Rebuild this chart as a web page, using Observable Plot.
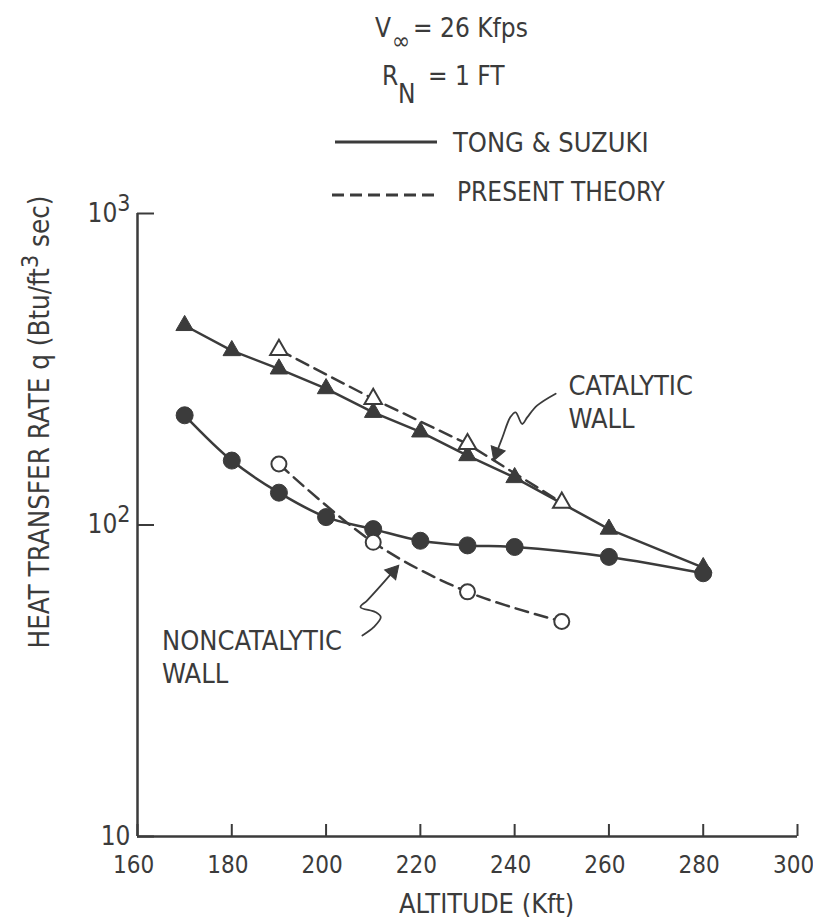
<!DOCTYPE html>
<html><head><meta charset="utf-8">
<script src="https://cdn.jsdelivr.net/npm/d3@7"></script>
<script src="https://cdn.jsdelivr.net/npm/@observablehq/plot@0.6"></script>
<style>
body{margin:0;background:#fff;}
#wrap{position:relative;width:813px;height:924px;}
#wrap svg{position:absolute;left:0;top:0;}
</style></head><body><div id="wrap"></div>
<script>
// ---- data ----
const altCatTong = [170,180,190,200,210,220,230,240,260,280];
const qCatTong   = [437,363,317,274,230,199,167,142,97,73];
const altCatPresent = [190,210,230,250];
const qCatPresent   = [365,254,182,118];
const altNonTong = [170,180,190,200,210,220,230,240,260,280];
const qNonTong   = [225,161,127,106,97,89,86,85,79,70];
const altNonPresent = [190,210,230,250];
const qNonPresent   = [157,88,61,49];
const xTicks = [160,180,200,220,240,260,280,300];
const yTicks = [10,100,1000];
const yTickLabels = ["10","10²","10³"];
const seriesNames = ["TONG & SUZUKI","PRESENT THEORY"];
const xLabel = "ALTITUDE (Kft)";
const yLabel = "HEAT TRANSFER RATE q (Btu/ft³ sec)";
// annotation labels (data-space anchors)
const noteText = ["CATALYTIC\nWALL","NONCATALYTIC\nWALL"];
const noteAlt = [251.4,165.2];
const noteQ = [309,46.9];
// annotation leader paths (data space)
const catArrowAlt = [248.7,244.8,242.7,241.6,240.2,239.1,237.4,236.5];
const catArrowQ   = [264,242,222,211,230,222,191,176];
const nonArrowAlt = [207.7,210.1,211.6,210.5,207.3,208.7,211.6,213.6];
const nonArrowQ   = [44.2,47.0,50.6,52.5,54.5,57.2,63.9,69.2];
const headAlt = [236.2,214.2];
const headQ = [171,70.8];
const headRotate = [200,42];

const INK = "#3b3b3b";
const FONT = '"DejaVu Sans Condensed","DejaVu Sans",sans-serif';
const W = 813, H = 924, MT = 213, MB = 88, ML = 137, MR = 16;
const FRAME_W = W - ML - MR, FRAME_H = H - MT - MB;
const zip = (xs, ys) => xs.map((x,i)=>({x, y: ys[i]}));
const catTong = zip(altCatTong,qCatTong);
const catPresent = zip(altCatPresent,qCatPresent);
const nonTong = zip(altNonTong,qNonTong);
const nonPresent = zip(altNonPresent,qNonPresent);
const catArrow = zip(catArrowAlt,catArrowQ);
const nonArrow = zip(nonArrowAlt,nonArrowQ);
const heads = headAlt.map((x,i)=>({x, y: headQ[i], r: headRotate[i]}));
const notes = noteText.map((t,i)=>({t, x: noteAlt[i], y: noteQ[i]}));
const DASH = "13,7";

const plot = Plot.plot({
  width: W, height: H,
  marginTop: MT, marginBottom: MB, marginLeft: ML, marginRight: MR,
  style: {fontFamily: FONT, fontSize: "26px", color: INK, background: "transparent"},
  x: {domain: [160,300], label: null},
  y: {type: "log", domain: [10,1000], label: null},
  marks: [
    Plot.ruleX([160], {stroke: INK, strokeWidth: 2.5}),
    Plot.ruleY([10], {stroke: INK, strokeWidth: 2.5}),
    // inward tick marks
    Plot.tickX(xTicks, {x: d => d, insetTop: FRAME_H - 12, stroke: INK, strokeWidth: 2}),
    Plot.tickY(yTicks, {y: d => d, insetRight: FRAME_W - 17, stroke: INK, strokeWidth: 2}),
    // tick labels
    Plot.axisX({ticks: xTicks, tickSize: 0, tickPadding: 19, dx: -4, tickFormat: d => String(d), fontSize: 24, label: null}),
    Plot.axisY({ticks: yTicks, tickSize: 0, tickPadding: 7, tickFormat: d => yTickLabels[yTicks.indexOf(d)], fontSize: 26, label: null}),
    Plot.text([xLabel], {frameAnchor: "bottom", dx: 19, dy: 57, lineAnchor: "top", fontSize: 27, fill: INK}),
    Plot.text([yLabel], {frameAnchor: "left", textAnchor: "middle", lineAnchor: "middle", dx: -97, dy: -103, rotate: -90, fontSize: 27.5, fill: INK}),
    Plot.line(catTong, {x: "x", y: "y", stroke: INK, strokeWidth: 2.5}),
    Plot.line(catPresent, {x: "x", y: "y", stroke: INK, strokeWidth: 2.5, strokeDasharray: DASH}),
    Plot.line(nonTong, {x: "x", y: "y", stroke: INK, strokeWidth: 2.5, curve: "catmull-rom"}),
    Plot.line(nonPresent, {x: "x", y: "y", stroke: INK, strokeWidth: 2.5, strokeDasharray: DASH, curve: "catmull-rom"}),
    Plot.dot(catTong, {x: "x", y: "y", symbol: "triangle", r: 6.5, fill: INK, stroke: INK, strokeWidth: 1}),
    Plot.dot(catPresent, {x: "x", y: "y", symbol: "triangle", r: 6.5, fill: "white", stroke: INK, strokeWidth: 2}),
    Plot.dot(nonTong, {x: "x", y: "y", r: 8.5, fill: INK, stroke: INK, strokeWidth: 1}),
    Plot.dot(nonPresent, {x: "x", y: "y", r: 7.5, fill: "white", stroke: INK, strokeWidth: 2}),
    Plot.line(catArrow, {x: "x", y: "y", stroke: INK, strokeWidth: 1.8, curve: "catmull-rom"}),
    Plot.line(nonArrow, {x: "x", y: "y", stroke: INK, strokeWidth: 1.8, curve: "catmull-rom"}),
    Plot.dot(heads, {x: "x", y: "y", rotate: "r", symbol: "triangle", r: 5.5, fill: INK, stroke: INK, strokeWidth: 1}),
    Plot.text(notes, {x: "x", y: "y", text: "t", textAnchor: "start", lineAnchor: "top", lineHeight: 1.2, fontSize: 27, fill: INK})
  ]
});

// superscript post-processing
function superscripts(svg){
  const map = {"²":"2","³":"3"};
  d3.select(svg).selectAll("text, tspan").each(function(){
    if (this.children.length) return;
    const t = this.textContent;
    if (!/[²³]/.test(t)) return;
    const sel = d3.select(this); sel.text(null);
    let raised = false;
    for (const p of t.split(/([²³])/)) {
      if (!p) continue;
      if (map[p]) { sel.append("tspan").attr("dy", "-11px").attr("font-size", "23px").text(map[p]); raised = true; }
      else { const s = sel.append("tspan").text(p); if (raised) { s.attr("dy", "11px"); raised = false; } }
    }
  });
}
superscripts(plot);
const wrap = document.getElementById("wrap");
wrap.appendChild(plot);

// legend / header above the plot frame
const hdr = d3.create("svg").attr("width", W).attr("height", 212)
  .attr("font-family", FONT).attr("font-size", 26).attr("fill", INK);
hdr.append("text").attr("x", 375).attr("y", 37).text("V");
hdr.append("text").attr("x", 392).attr("y", 49).attr("font-size", 24).text("∞");
hdr.append("text").attr("x", 413).attr("y", 37).text("= 26 Kfps");
hdr.append("text").attr("x", 382).attr("y", 85).text("R");
hdr.append("text").attr("x", 398).attr("y", 103).text("N");
hdr.append("text").attr("x", 428).attr("y", 85).text("= 1 FT");
hdr.append("line").attr("x1", 335).attr("x2", 437).attr("y1", 142).attr("y2", 142).attr("stroke", INK).attr("stroke-width", 3);
hdr.append("text").attr("x", 453).attr("y", 152).attr("font-size", 27).text(seriesNames[0]);
hdr.append("line").attr("x1", 332).attr("x2", 440).attr("y1", 195).attr("y2", 195).attr("stroke", INK).attr("stroke-width", 3).attr("stroke-dasharray", "12,6");
hdr.append("text").attr("x", 457).attr("y", 201).text(seriesNames[1]);
wrap.appendChild(hdr.node());
</script></body></html>
